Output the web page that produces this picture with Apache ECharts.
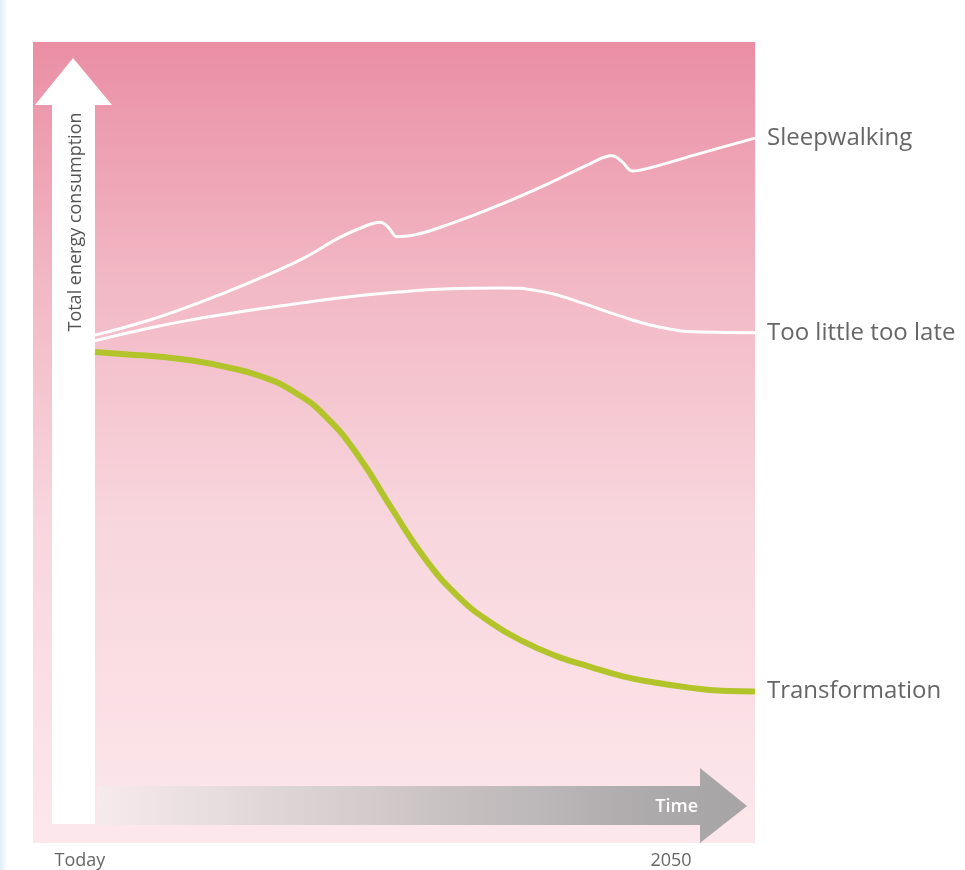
<!DOCTYPE html>
<html>
<head>
<meta charset="utf-8">
<script src="https://cdn.jsdelivr.net/npm/echarts@6/dist/echarts.min.js"></script>
<style>html,body{margin:0;padding:0;background:#fff;}#c{width:965px;height:870px;}</style>
</head>
<body>
<div id="c"></div>
<script>
// time position (0 = Today, 100 = 2050); values are relative energy consumption
const sleepX = [0, 8.3, 15.9, 23.5, 31.1, 37.1, 40.9, 43.2, 44.4, 45.8, 47.7, 53.8, 61.4, 68.9, 75.0, 78.3, 79.8, 81.4, 84.1, 91.7, 100];
const sleepY = [63.4, 65.3, 67.5, 70.0, 72.8, 75.6, 77.0, 77.5, 76.9, 75.7, 75.8, 77.3, 79.7, 82.4, 84.8, 85.8, 85.1, 83.9, 84.3, 86.1, 88.0];
const lateX = [0, 8.3, 15.9, 23.5, 31.1, 38.6, 46.2, 53.8, 61.4, 67.4, 73.5, 79.5, 85.6, 91.7, 100];
const lateY = [62.7, 64.3, 65.5, 66.5, 67.4, 68.2, 68.8, 69.2, 69.3, 68.9, 67.5, 65.8, 64.4, 63.8, 63.7];
const transX = [0, 5, 10, 15, 20, 25, 30, 35, 40, 45, 50, 55, 60, 65, 70, 75, 80, 85, 90, 95, 100];
const transY = [61.3, 61.0, 60.7, 60.2, 59.4, 58.3, 56.4, 53.2, 48.2, 41.7, 35.5, 30.8, 27.5, 25.1, 23.3, 22.0, 20.8, 20.0, 19.4, 19.0, 18.9];
const seriesNames = ['Sleepwalking', 'Too little too late', 'Transformation'];
const timeLabels = ['Today', '2050'];
const yAxisTitle = 'Total energy consumption';
const xAxisTitle = 'Time';

const zip = (xs, ys) => xs.map((x, i) => [x, ys[i]]);
const chart = echarts.init(document.getElementById('c'));
const font = 'Open Sans';
const endLbl = { show: true, formatter: '{a}', color: '#666', fontSize: 24, fontFamily: font, distance: 12 };

chart.setOption({
  backgroundColor: '#ffffff',
  animation: false,
  grid: { left: 95, right: 210, top: 42, bottom: 27 },
  xAxis: { type: 'value', min: 0, max: 100, show: false },
  yAxis: { type: 'value', min: 0, max: 100, show: false },
  graphic: [
    { type: 'rect', z: -10, shape: { x: 0, y: 0, width: 8, height: 870 },
      style: { fill: new echarts.graphic.LinearGradient(0, 0, 1, 0, [{offset: 0, color: '#e1edf6'}, {offset: 1, color: '#ffffff'}]) } },
    { type: 'rect', z: -9, shape: { x: 33, y: 42, width: 722, height: 801 },
      style: { fill: new echarts.graphic.LinearGradient(0, 0, 0, 1, [
        {offset: 0, color: '#ea8ea4'},
        {offset: 0.3, color: '#f2b8c5'},
        {offset: 0.6, color: '#f8d6dd'},
        {offset: 1, color: '#fce8ec'}]) } },
    // vertical arrow
    { type: 'polygon', z: -5, shape: { points: [[52, 824], [52, 105], [35, 105], [73, 58], [112, 105], [95, 105], [95, 824]] },
      style: { fill: '#ffffff' } },
    { type: 'text', z: 5, x: 76, y: 222, rotation: Math.PI / 2,
      style: { text: yAxisTitle, fill: '#555', font: '18px "Open Sans"', align: 'center', verticalAlign: 'middle' } },
    // horizontal arrow
    { type: 'polygon', z: -5, shape: { points: [[97, 786], [700, 786], [700, 768], [747, 806], [700, 843], [700, 825], [97, 825]] },
      style: { fill: new echarts.graphic.LinearGradient(0, 0, 1, 0, [{offset: 0, color: '#f7eaec'}, {offset: 0.85, color: '#adaaab'}, {offset: 1, color: '#a7a4a5'}]) } },
    { type: 'text', z: 5, x: 698, y: 807,
      style: { text: xAxisTitle, fill: '#ffffff', font: '600 18px "Open Sans"', align: 'right', verticalAlign: 'middle' } },
    { type: 'text', x: 80, y: 861,
      style: { text: timeLabels[0], fill: '#666', font: '18px "Open Sans"', align: 'center', verticalAlign: 'middle' } },
    { type: 'text', x: 671, y: 861,
      style: { text: timeLabels[1], fill: '#666', font: '18px "Open Sans"', align: 'center', verticalAlign: 'middle' } }
  ],
  series: [
    { name: seriesNames[0], type: 'line', data: zip(sleepX, sleepY), smooth: 0.4, showSymbol: false,
      lineStyle: { color: '#ffffff', width: 3 }, endLabel: endLbl },
    { name: seriesNames[1], type: 'line', data: zip(lateX, lateY), smooth: 0.5, showSymbol: false,
      lineStyle: { color: '#ffffff', width: 3 }, endLabel: endLbl },
    { name: seriesNames[2], type: 'line', data: zip(transX, transY), smooth: 0.5, showSymbol: false,
      lineStyle: { color: '#b2c42a', width: 6 }, endLabel: endLbl }
  ]
});
</script>
</body>
</html>
